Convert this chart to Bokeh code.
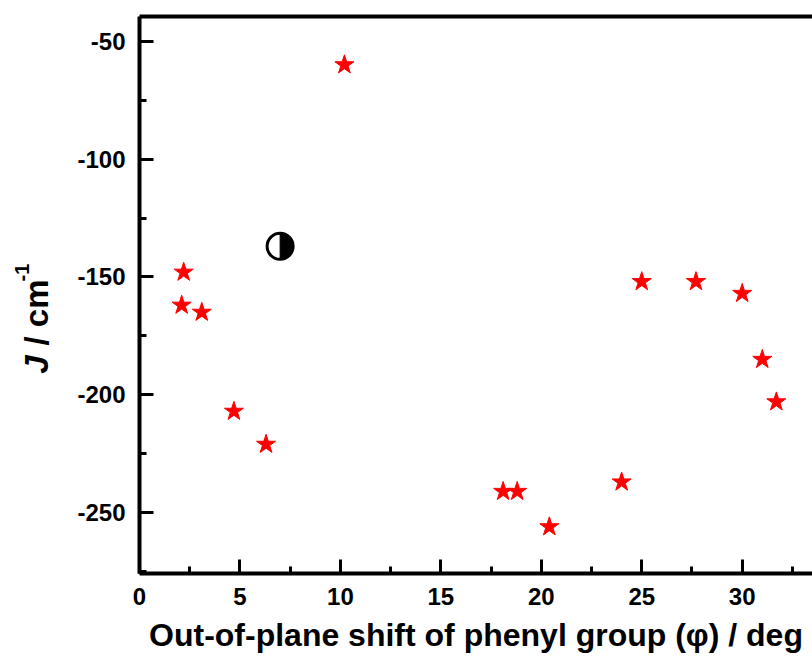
import math

from bokeh.embed import file_html
from bokeh.layouts import row
from bokeh.models import (FixedTicker, Label, LinearAxis, PrintfTickFormatter, Range1d,
                          SingleIntervalTicker)
from bokeh.plotting import figure
from bokeh.resources import INLINE

# Calculated exchange couplings vs. phenyl out-of-plane shift
shift_deg = [10.2, 2.2, 2.1, 3.1, 4.7, 6.3, 18.1, 18.8, 20.4, 24.0, 25.0, 27.7, 30.0, 31.0, 31.7]
j_values = [-60, -148, -162, -165, -207, -221, -241, -241, -256, -237, -152, -152, -157, -185, -203]

# Experimental reference point
exp_shift = [7.0]
exp_j = [-137]

x_label = "Out-of-plane shift of phenyl group (\u03c6) / deg"
FONT = "Liberation Sans"

H = 664
TOP, BOTTOM = 16, 91

# ---- main scatter plot ----
p = figure(
    width=752, height=H,
    x_range=Range1d(0, 33.5), y_range=Range1d(-275.8, -39.5),
    output_backend="svg", toolbar_location=None, tools="",
    min_border_left=79, min_border_right=0, min_border_top=TOP, min_border_bottom=BOTTOM,
)
p.outline_line_color = None
p.background_fill_color = "white"
p.border_fill_color = "white"
p.xgrid.visible = False
p.ygrid.visible = False

p.xaxis.ticker = SingleIntervalTicker(interval=5, num_minor_ticks=2)
p.yaxis.ticker = SingleIntervalTicker(interval=50, num_minor_ticks=2)
p.yaxis.formatter = PrintfTickFormatter(format="%d")
p.xaxis.formatter = PrintfTickFormatter(format="%d")

for ax in (p.xaxis[0], p.yaxis[0]):
    ax.axis_line_width = 4
    ax.axis_line_color = "black"
    ax.major_tick_in = 14
    ax.major_tick_out = 0
    ax.minor_tick_in = 7
    ax.minor_tick_out = 0
    ax.major_tick_line_width = 3
    ax.minor_tick_line_width = 3
    ax.major_tick_line_color = "black"
    ax.minor_tick_line_color = "black"
    ax.major_label_text_font = FONT
    ax.major_label_text_font_style = "bold"
    ax.major_label_text_font_size = "24px"
    ax.major_label_text_color = "black"

p.xaxis.major_label_standoff = 14
p.yaxis.major_label_standoff = 14

p.xaxis.axis_label = x_label
p.xaxis.axis_label_text_font = FONT
p.xaxis.axis_label_text_font_style = "bold"
p.xaxis.axis_label_text_font_size = "32px"
p.xaxis.axis_label_text_color = "black"
p.xaxis.axis_label_standoff = 9

# top frame line
top = LinearAxis(ticker=FixedTicker(ticks=[]), axis_line_width=4, axis_line_color="black",
                 major_label_standoff=0, major_tick_line_color=None, minor_tick_line_color=None)
p.add_layout(top, "above")

# calculated values
p.scatter(shift_deg, j_values, marker="star", size=20, fill_color="#ff0000",
          line_color="#ff0000", line_width=1)

# experimental value: half-filled circle
p.scatter(exp_shift, exp_j, marker="circle", size=26, fill_color="white",
          line_color="black", line_width=3)
p.wedge(exp_shift, exp_j, radius=13, radius_units="screen",
        start_angle=-math.pi / 2, end_angle=math.pi / 2,
        fill_color="black", line_color="black")

# ---- y-axis title strip: italic J, unit and superscript ----
# the strip's frame lines up with the main plot's frame, so its y range is
# expressed in page pixels measured up from the bottom of the page
ylab = figure(
    width=60, height=H, x_range=Range1d(0, 60), y_range=Range1d(BOTTOM, H - TOP),
    output_backend="svg", toolbar_location=None, tools="",
    x_axis_location=None, y_axis_location=None,
    min_border_left=0, min_border_right=0, min_border_top=TOP, min_border_bottom=BOTTOM,
)
ylab.outline_line_color = None
ylab.xgrid.visible = False
ylab.ygrid.visible = False
ylab.background_fill_color = "white"
ylab.border_fill_color = "white"

label_style = dict(angle=math.pi / 2, text_align="center", text_baseline="middle",
                   text_font=FONT, text_color="black")
ylab.add_layout(Label(x=35.5, y=H - 364, text="J", text_font_size="33px",
                      text_font_style="bold italic", **label_style))
ylab.add_layout(Label(x=35.5, y=H - 312, text="/ cm", text_font_size="33px",
                      text_font_style="bold", **label_style))
ylab.add_layout(Label(x=21, y=H - 272, text="-1", text_font_size="20px",
                      text_font_style="bold", **label_style))

layout = row(ylab, p, spacing=0)

open("out.html", "w").write(file_html(layout, INLINE))
